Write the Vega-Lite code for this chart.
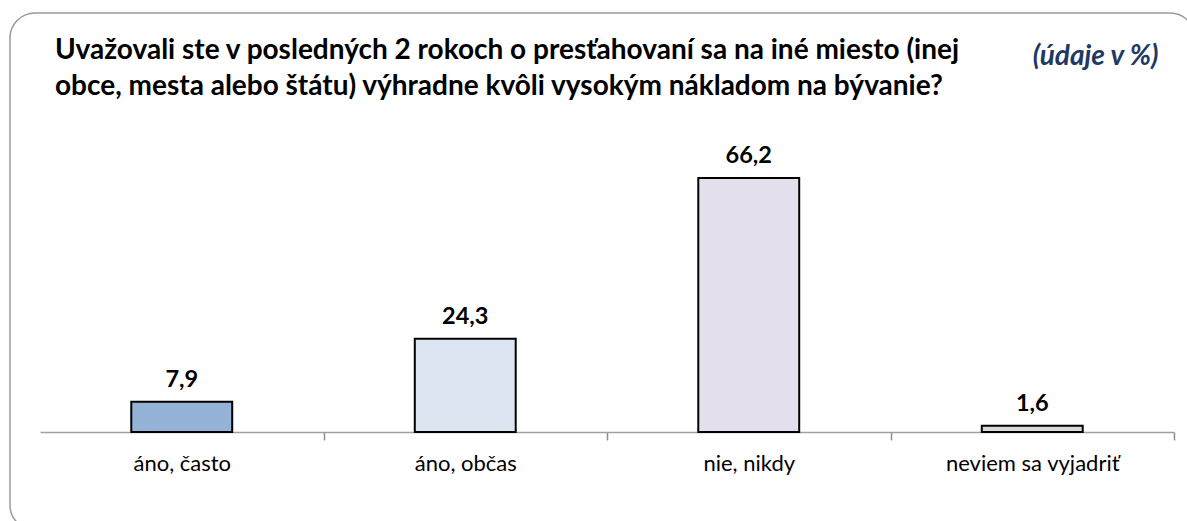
{
  "$schema": "https://vega.github.io/schema/vega-lite/v6.json",
  "autosize": "none",
  "width": 1185,
  "height": 517,
  "padding": {"left": 10, "top": 13, "right": -8, "bottom": -9},
  "background": "white",
  "config": {
    "font": "Lato",
    "view": {"stroke": "#9a9a9a", "strokeWidth": 1.5, "cornerRadius": 25}
  },
  "title": {
    "text": ["Uvažovali ste v posledných 2 rokoch o presťahovaní sa na iné miesto (inej", "obce, mesta alebo štátu) výhradne kvôli vysokým nákladom na bývanie?"],
    "anchor": "start",
    "frame": "group",
    "orient": "top",
    "baseline": "top",
    "offset": 0,
    "dx": 45,
    "dy": 88,
    "lineHeight": 36,
    "fontSize": 28,
    "fontWeight": "bold",
    "color": "black",
    "font": "Lato"
  },
  "data": {
    "values": [
      {"kategoria": "áno, často", "hodnota": 7.9, "label": "7,9"},
      {"kategoria": "áno, občas", "hodnota": 24.3, "label": "24,3"},
      {"kategoria": "nie, nikdy", "hodnota": 66.2, "label": "66,2"},
      {"kategoria": "neviem sa vyjadriť", "hodnota": 1.6, "label": "1,6"}
    ]
  },
  "encoding": {
    "x": {
      "field": "kategoria",
      "type": "nominal",
      "sort": null,
      "scale": {"range": [30, 1164], "paddingInner": 0.644, "paddingOuter": 0.322},
      "axis": {
        "title": null,
        "labelAngle": 0,
        "labelFontSize": 22,
        "labelColor": "black",
        "labelFont": "Lato",
        "labelPadding": 13,
        "ticks": true,
        "tickExtra": false,
        "tickOffset": 141.75,
        "labelOffset": -141.75,
        "tickSize": 8,
        "tickColor": "#8c8c8c",
        "domainColor": "#a0a0a0",
        "domainWidth": 1.5,
        "tickWidth": 1.5,
        "offset": -98
      }
    },
    "y": {
      "field": "hodnota",
      "type": "quantitative",
      "scale": {"domain": [0, 66.2], "range": [419, 165], "nice": false, "zero": true},
      "axis": {
        "orient": "right",
        "labels": false,
        "ticks": false,
        "domain": false,
        "grid": false,
        "title": "(údaje v %)",
        "titleAngle": 0,
        "titleX": -37,
        "titleY": 51,
        "titleAlign": "right",
        "titleBaseline": "alphabetic",
        "titleFontSize": 28,
        "titleFontWeight": "bold",
        "titleFontStyle": "italic",
        "titleColor": "#1f3864",
        "titleFont": "Lato"
      }
    }
  },
  "layer": [
    {
      "mark": {"type": "bar", "stroke": "black", "strokeWidth": 2},
      "encoding": {
        "color": {
          "field": "kategoria",
          "type": "nominal",
          "sort": null,
          "scale": {"range": ["#95b3d7", "#dce6f2", "#e4dfec", "#d9d9d9"]},
          "legend": null
        }
      }
    },
    {
      "mark": {"type": "text", "baseline": "bottom", "dy": -10, "fontSize": 23.5, "fontWeight": "bold", "color": "black", "font": "Lato"},
      "encoding": {"text": {"field": "label"}}
    }
  ]
}
